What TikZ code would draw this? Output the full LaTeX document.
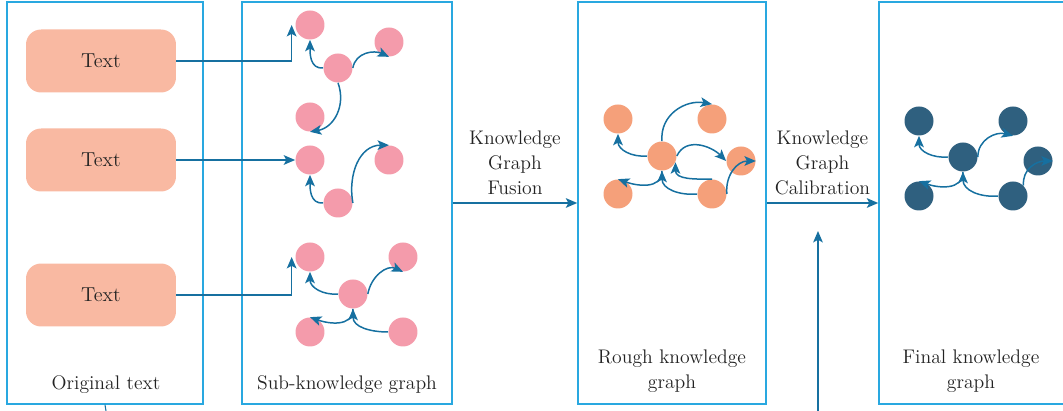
\documentclass[tikz,border=0pt]{standalone}
\usepackage{xcolor}
\usepackage{tikz}
\usetikzlibrary{shapes,arrows.meta,positioning,calc}
\definecolor{frame}{RGB}{41,168,224}
\definecolor{link}{RGB}{22,112,160}
\definecolor{textbox}{RGB}{249,185,162}
\definecolor{subnode}{RGB}{244,155,171}
\definecolor{roughnode}{RGB}{245,160,122}
\definecolor{finalnode}{RGB}{47,96,127}
\definecolor{ink}{RGB}{35,35,35}

\begin{document}
\begin{tikzpicture}[x=0.02cm,y=-0.02cm,
  panel/.style={draw=frame,line width=0.9pt,minimum height=8.04cm},
  txt/.style={fill=textbox,rounded corners=0.3cm,minimum width=3cm,minimum height=1.26cm,
              font=\fontsize{11.5}{14}\selectfont,text=ink},
  dot/.style={circle,minimum size=0.58cm,inner sep=0pt},
  lbl/.style={font=\fontsize{11.2}{14.2}\selectfont,text=ink,align=center},
  arr/.style={-{Stealth[length=6.5pt,width=5.5pt,inset=1.5pt]},link,line width=0.85pt},
  edge/.style={arr,looseness=1.1}
]
\useasboundingbox (0,0) rectangle (1063,411);
% Panels: x = 7..203, 242..452, 578..766, 879..
\node[panel,minimum width=3.92cm] (b1) at (105,203) {};
\node[panel,minimum width=4.2cm]  (b2) at (347,203) {};
\node[panel,minimum width=3.76cm] (b3) at (672,203) {};
\node[panel,minimum width=3.8cm]  (b4) at (974,203) {};
\node[lbl] at (106,385) {Original text};
\node[lbl] at (347,385) {Sub-knowledge graph};
\node[lbl] at (672,371) {Rough knowledge\\graph};
\node[lbl] at (971,371) {Final knowledge\\graph};

% Original texts
\node[txt] (t1) at (101,61)  {Text};
\node[txt] (t2) at (101,160) {Text};
\node[txt] (t3) at (101,295) {Text};

% Sub-knowledge graphs
\node[dot,fill=subnode] (sa) at (310,25)  {};
\node[dot,fill=subnode] (sb) at (389,42)  {};
\node[dot,fill=subnode] (sc) at (338,68)  {};
\node[dot,fill=subnode] (sd) at (310,117) {};
\node[dot,fill=subnode] (se) at (310,160) {};
\node[dot,fill=subnode] (sf) at (389,160) {};
\node[dot,fill=subnode] (sg) at (338,203) {};
\node[dot,fill=subnode] (sh) at (310,257) {};
\node[dot,fill=subnode] (si) at (403,257) {};
\node[dot,fill=subnode] (sj) at (353,294) {};
\node[dot,fill=subnode] (sk) at (310,332) {};
\node[dot,fill=subnode] (sl) at (403,332) {};

% Rough knowledge graph
\node[dot,fill=roughnode] (r1) at (618,119) {};
\node[dot,fill=roughnode] (r2) at (712,119) {};
\node[dot,fill=roughnode] (r3) at (662,156) {};
\node[dot,fill=roughnode] (r4) at (741,161) {};
\node[dot,fill=roughnode] (r5) at (618,194) {};
\node[dot,fill=roughnode] (r6) at (712,194) {};

% Final knowledge graph
\node[dot,fill=finalnode] (f1) at (919,121)  {};
\node[dot,fill=finalnode] (f2) at (1013,121) {};
\node[dot,fill=finalnode] (f3) at (963,157)  {};
\node[dot,fill=finalnode] (f4) at (1038,161) {};
\node[dot,fill=finalnode] (f5) at (919,196)  {};
\node[dot,fill=finalnode] (f6) at (1013,196) {};

\coordinate (origin) at (106,411);
\coordinate (feed) at (818,411);
\coordinate (feedtip) at (818,231);

% Text -> sub-graphs
\draw[arr] (t1.east) -| ([xshift=-2]sa.west);
\draw[arr] (t2.east) -- (se.west);
\draw[arr] (t3.east) -| ([xshift=-2]sh.west);
\draw[link,line width=0.6pt] (b1.south) -- (origin);

% Sub-graph edges
\draw[edge] (sc.west) to[out=185,in=-90] (sa.south);
\draw[edge] (sc.east) to[out=80,in=155] (sb.south);
\draw[edge] (sc.south) to[out=-70,in=10] (sd.south);
\draw[edge] (sg.west) to[out=185,in=-90] (se.south);
\draw[edge] (sg.east) to[out=100,in=180] (sf.north);
\draw[edge] (sj.west) to[out=185,in=-90] (sh.south);
\draw[edge] (sj.east) to[out=80,in=155] (si.south);
\draw[edge] (sj.south) to[out=-90,in=-20] (sk.north);
\draw[edge] (sl.west) to[out=180,in=-90] (sj.south);

% Rough graph edges
\draw[edge] (r3.west) to[out=185,in=-90] (r1.south);
\draw[edge] (r3.north) to[out=95,in=170] (r2.north);
\draw[edge] (r3.east) to[out=65,in=135] (r4.west);
\draw[edge] (r6.north) to[out=180,in=-90] (r3.-25);
\draw[edge] (r3.south) to[out=-90,in=-20] (r5.north);
\draw[edge] (r6.west) to[out=185,in=-90] (r3.south);
\draw[edge] (r6.east) to[out=95,in=180] (r4.east);

% Final graph edges
\draw[edge] (f3.west) to[out=185,in=-90] (f1.south);
\draw[edge] (f3.east) to[out=90,in=165] (f2.south);
\draw[edge] (f3.south) to[out=-90,in=-20] (f5.north);
\draw[edge] (f6.west) to[out=185,in=-90] (f3.south);
\draw[edge] (f6.north east) to[out=95,in=180] (f4.east);

% Fusion and calibration
\draw[arr] (b2.east) -- (b3.west)
  node[lbl,midway,above=1pt] {Knowledge\\Graph\\Fusion};
\draw[arr] (b3.east) -- (b4.west)
  node[lbl,midway,above=1pt] {Knowledge\\Graph\\Calibration};
\draw[arr] (feed) -- (feedtip);
\end{tikzpicture}
\end{document}
